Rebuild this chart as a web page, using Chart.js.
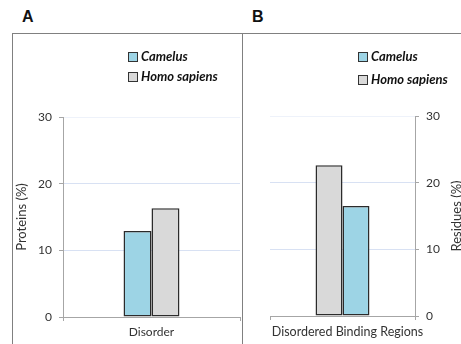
<!DOCTYPE html>
<html lang="en">
<head>
    <meta charset="UTF-8">
    <title>Disorder</title>
    <script src="https://cdn.jsdelivr.net/npm/chart.js"></script>
    <style>
        body { margin: 0; background: #fff; }
        #wrap { position: relative; width: 461px; height: 344px; overflow: hidden; font-family: Lato, "Open Sans", sans-serif; }
        canvas { position: absolute; top: 0; }
        #chartA { left: 0; }
        #chartB { left: 242px; }
        /* molduras dos painéis */
        .frame { position: absolute; background: #808080; }
        .panel-label { position: absolute; top: 8px; font: bold 16px "Liberation Sans", Arial, sans-serif; color: #111; }
        .legend { position: absolute; font-weight: bold; font-style: italic; font-size: 13px; color: #111; }
        .legend div { position: absolute; white-space: nowrap; line-height: 14px; }
        .legend span.box { display: inline-block; width: 8px; height: 8px; border: 1px solid #333; margin-right: 3px; vertical-align: -1px; }
    </style>
</head>
<body>
<div id="wrap">
    <div class="frame" style="left:12px;top:33px;width:449px;height:1px"></div>
    <div class="frame" style="left:12px;top:33px;width:1px;height:311px"></div>
    <div class="frame" style="left:242px;top:33px;width:1px;height:311px"></div>
    <div class="panel-label" style="left:22px">A</div>
    <div class="panel-label" style="left:252px">B</div>
    <canvas id="chartA" width="242" height="344"></canvas>
    <canvas id="chartB" width="219" height="344"></canvas>
    <div class="legend" id="legendA" style="left:128px;top:0"></div>
    <div class="legend" id="legendB" style="left:358px;top:0"></div>
</div>

<script>
    // dados
    const speciesNames = ['Camelus', 'Homo sapiens'];
    const speciesColors = ['#9dd4e5', '#d9d9d9'];

    const categoriesA = ['Disorder'];
    const camelusA = [12.9];
    const homoA = [16.3];

    const categoriesB = ['Disordered Binding Regions'];
    const homoB = [22.6];
    const camelusB = [16.5];

    const yTicks = [0, 10, 20, 30];

    const gridColor = '#d8e1f3';
    const axisColor = '#a6a6a6';
    const textColor = '#333';
    const fontFamily = 'Lato, "Open Sans", sans-serif';

    // título do eixo y rodado (lê de baixo para cima nos dois painéis)
    const sideTitle = {
        id: 'sideTitle',
        afterDraw(chart, args, opts) {
            const ctx = chart.ctx;
            ctx.save();
            ctx.translate(opts.x, opts.y);
            ctx.rotate(-Math.PI / 2);
            ctx.font = '13px ' + fontFamily;
            ctx.fillStyle = textColor;
            ctx.textAlign = 'center';
            ctx.textBaseline = 'middle';
            ctx.fillText(opts.text, 0, 0);
            ctx.restore();
        }
    };

    function barDataset(label, data) {
        const i = speciesNames.indexOf(label);
        return {
            label: label,
            data: data,
            backgroundColor: speciesColors[i],
            borderColor: '#2b2b2b',
            borderWidth: 1.5,
            borderSkipped: false
        };
    }

    function criarPainel(id, labels, datasets, cfg) {
        return new Chart(document.getElementById(id), {
            type: 'bar',
            data: { labels: labels, datasets: datasets },
            plugins: [sideTitle],
            options: {
                responsive: false,
                animation: false,
                layout: { padding: cfg.padding },
                datasets: { bar: { categoryPercentage: cfg.groupWidth, barPercentage: 1 } },
                plugins: {
                    legend: { display: false },
                    tooltip: { enabled: false },
                    sideTitle: cfg.title
                },
                scales: {
                    x: {
                        offset: true,
                        grid: { offset: true, drawOnChartArea: false, tickLength: 4, color: axisColor },
                        border: { color: axisColor },
                        ticks: {
                            color: textColor, padding: 4, labelOffset: cfg.labelShift,
                            font: { family: fontFamily, size: cfg.xFont }
                        },
                        afterFit: s => { s.height = cfg.xHeight; }
                    },
                    y: {
                        position: cfg.yPos,
                        min: 0,
                        max: 30,
                        afterBuildTicks: s => { s.ticks = yTicks.map(v => ({ value: v })); },
                        grid: {
                            color: c => c.tick && c.tick.value === 30 ? '#eef2fa' : gridColor,
                            tickColor: axisColor,
                            tickLength: 4
                        },
                        border: { color: axisColor },
                        ticks: { color: textColor, padding: 7, font: { family: fontFamily, size: 12 } },
                        afterFit: s => { s.width = cfg.yWidth; }
                    }
                }
            }
        });
    }

    criarPainel('chartA', categoriesA,
        [barDataset('Camelus', camelusA), barDataset('Homo sapiens', homoA)],
        {
            padding: { left: 0, right: 2, top: 117, bottom: 0 },
            groupWidth: 0.316,
            xHeight: 27,
            xFont: 12,
            labelShift: 0,
            yWidth: 63,
            yPos: 'left',
            title: { text: 'Proteins (%)', x: 22, y: 217 }
        });

    criarPainel('chartB', categoriesB,
        [barDataset('Homo sapiens', homoB), barDataset('Camelus', camelusB)],
        {
            padding: { left: 28, right: 0, top: 116, bottom: 0 },
            groupWidth: 0.372,
            xHeight: 28,
            xFont: 12.5,
            labelShift: 5,
            yWidth: 46,
            yPos: 'right',
            title: { text: 'Residues (%)', x: 215, y: 216 }
        });

    // legendas em HTML a partir das séries
    function montarLegenda(id, rows) {
        const el = document.getElementById(id);
        speciesNames.forEach((name, i) => {
            const d = document.createElement('div');
            d.style.top = (rows[i] - 7) + 'px';
            d.innerHTML = '<span class="box" style="background:' + speciesColors[i] + '"></span>' + name;
            el.appendChild(d);
        });
    }
    montarLegenda('legendA', [56, 76]);
    montarLegenda('legendB', [56, 79]);
</script>
</body>
</html>
